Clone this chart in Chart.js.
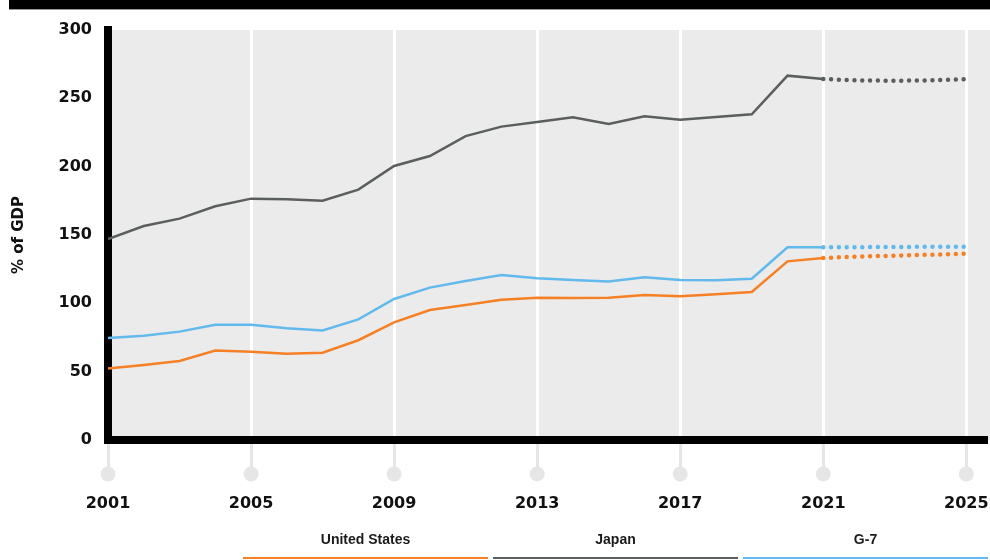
<!DOCTYPE html>
<html>
<head>
<meta charset="utf-8">
<script src="https://cdn.jsdelivr.net/npm/chart.js@4"></script>
<style>
  body { margin: 0; background: #fff; width: 990px; height: 560px; overflow: hidden; position: relative; }
  #topBar { position: absolute; left: 9px; top: 0; width: 981px; height: 9px; background: #000; border-bottom: 1px solid #999; }
  #chartBox { position: absolute; left: 0; top: 0; width: 990px; height: 560px; }
  #legend { position: absolute; left: 243px; top: 531px; display: flex; gap: 5px; }
  .legendItem {
    width: 245px; height: 28px; line-height: 22px; text-align: center;
    font: bold 14px "Liberation Sans Narrow", "Liberation Sans", sans-serif; color: #1a1a1a;
    border-bottom: 2px solid #999; box-sizing: border-box;
  }
</style>
</head>
<body>
<div id="topBar"></div>
<div id="chartBox"><canvas id="debtChart" width="990" height="560"></canvas></div>
<div id="legend"></div>
<script>
// Gross debt, % of GDP
const histYears = [2001, 2002, 2003, 2004, 2005, 2006, 2007, 2008, 2009, 2010, 2011,
  2012, 2013, 2014, 2015, 2016, 2017, 2018, 2019, 2020, 2021];
const foreYears = [2021, 2022, 2023, 2024, 2025];
const tickYears = [2001, 2005, 2009, 2013, 2017, 2021, 2025];

const usDebt = [52.4, 54.9, 57.8, 65.4, 64.6, 63.2, 63.9, 73.0, 86.1, 95.1, 98.8,
  102.7, 104.1, 103.9, 104.1, 106.1, 105.1, 106.6, 108.3, 130.7, 133.2];
const usForecast = [133.2, 134.2, 134.9, 135.6, 136.3];

const japanDebt = [147.0, 156.6, 162.0, 171.0, 176.6, 176.1, 175.1, 183.2, 200.5, 207.8, 222.4,
  229.3, 232.7, 236.1, 231.2, 236.8, 234.4, 236.3, 238.3, 266.6, 264.1];
const japanForecast = [264.1, 263.1, 262.9, 263.1, 264.1];

const g7Debt = [74.6, 76.3, 79.3, 84.4, 84.4, 81.7, 80.2, 88.3, 103.2, 111.5, 116.4,
  120.7, 118.3, 117.1, 115.9, 119.0, 117.1, 116.8, 118.0, 141.0, 141.0];
const g7Forecast = [141.0, 141.1, 141.2, 141.4, 141.5];

const seriesNames = ['United States', 'Japan', 'G-7'];
const seriesColors = ['#f58025', '#5b5e5e', '#62b9ec'];

const font = 'DejaVu Sans';

function toPoints(xs, ys) {
  return xs.map((x, i) => ({ x, y: ys[i] }));
}

function solid(label, xs, ys, color) {
  return { label, data: toPoints(xs, ys), borderColor: color, borderWidth: 2.5,
    pointRadius: 0, tension: 0, fill: false };
}

function dotted(label, xs, ys, color) {
  return { label, data: toPoints(xs, ys), borderColor: color, borderWidth: 4.5,
    borderDash: [0, 7.8], borderCapStyle: 'round', pointRadius: 0, tension: 0, fill: false };
}

// gray plot background
const plotBackground = {
  id: 'plotBackground',
  beforeDraw(chart) {
    const { ctx, chartArea } = chart;
    ctx.save();
    ctx.fillStyle = '#ebebeb';
    ctx.fillRect(chartArea.left, chartArea.top, chart.width - chartArea.left, chartArea.bottom - chartArea.top);
    ctx.restore();
  }
};

// round knobs at the end of the x tick marks
const tickKnobs = {
  id: 'tickKnobs',
  afterDraw(chart) {
    const { ctx } = chart;
    const xs = chart.scales.x;
    ctx.save();
    ctx.fillStyle = '#e6e6e6';
    xs.ticks.forEach(t => {
      ctx.beginPath();
      ctx.arc(xs.getPixelForValue(t.value), xs.top + 34, 7.5, 0, Math.PI * 2);
      ctx.fill();
    });
    ctx.restore();
  }
};

new Chart(document.getElementById('debtChart'), {
  type: 'line',
  data: {
    datasets: [
      solid(seriesNames[1], histYears, japanDebt, seriesColors[1]),
      dotted(seriesNames[1], foreYears, japanForecast, seriesColors[1]),
      solid(seriesNames[2], histYears, g7Debt, seriesColors[2]),
      dotted(seriesNames[2], foreYears, g7Forecast, seriesColors[2]),
      solid(seriesNames[0], histYears, usDebt, seriesColors[0]),
      dotted(seriesNames[0], foreYears, usForecast, seriesColors[0])
    ]
  },
  options: {
    responsive: false,
    animation: false,
    layout: { padding: { top: 30, right: 4, left: 0, bottom: 0 } },
    plugins: { legend: { display: false }, tooltip: { enabled: false } },
    scales: {
      x: {
        type: 'linear',
        min: 2001,
        max: 2025.55,
        afterBuildTicks: s => { s.ticks = tickYears.map(v => ({ value: v })); },
        afterFit: s => { s.height = 120; s.paddingLeft = 0; s.paddingRight = 0; },
        grid: { color: '#ffffff', lineWidth: 3, tickColor: '#e6e6e6', tickWidth: 3, tickLength: 34 },
        border: { color: '#000', width: 8 },
        ticks: { color: '#111', padding: 20, font: { family: font, size: 16, weight: 'bold' },
          callback: v => String(v), maxRotation: 0 }
      },
      y: {
        min: 0,
        max: 300,
        afterFit: s => { s.width = 108; s.paddingTop = 0; s.paddingBottom = 0; },
        grid: { display: false },
        border: { color: '#000', width: 8 },
        ticks: { stepSize: 50, color: '#111', padding: 8, font: { family: font, size: 16, weight: 'bold' } },
        title: { display: true, text: '% of GDP', color: '#111', padding: { top: 10, bottom: 0 },
          font: { family: font, size: 15, weight: 'bold' } }
      }
    }
  },
  plugins: [plotBackground, tickKnobs]
});

// legend under the axis
const legend = document.getElementById('legend');
seriesNames.forEach((name, i) => {
  const item = document.createElement('div');
  item.className = 'legendItem';
  item.textContent = name;
  item.style.borderBottomColor = seriesColors[i];
  legend.appendChild(item);
});
</script>
</body>
</html>
